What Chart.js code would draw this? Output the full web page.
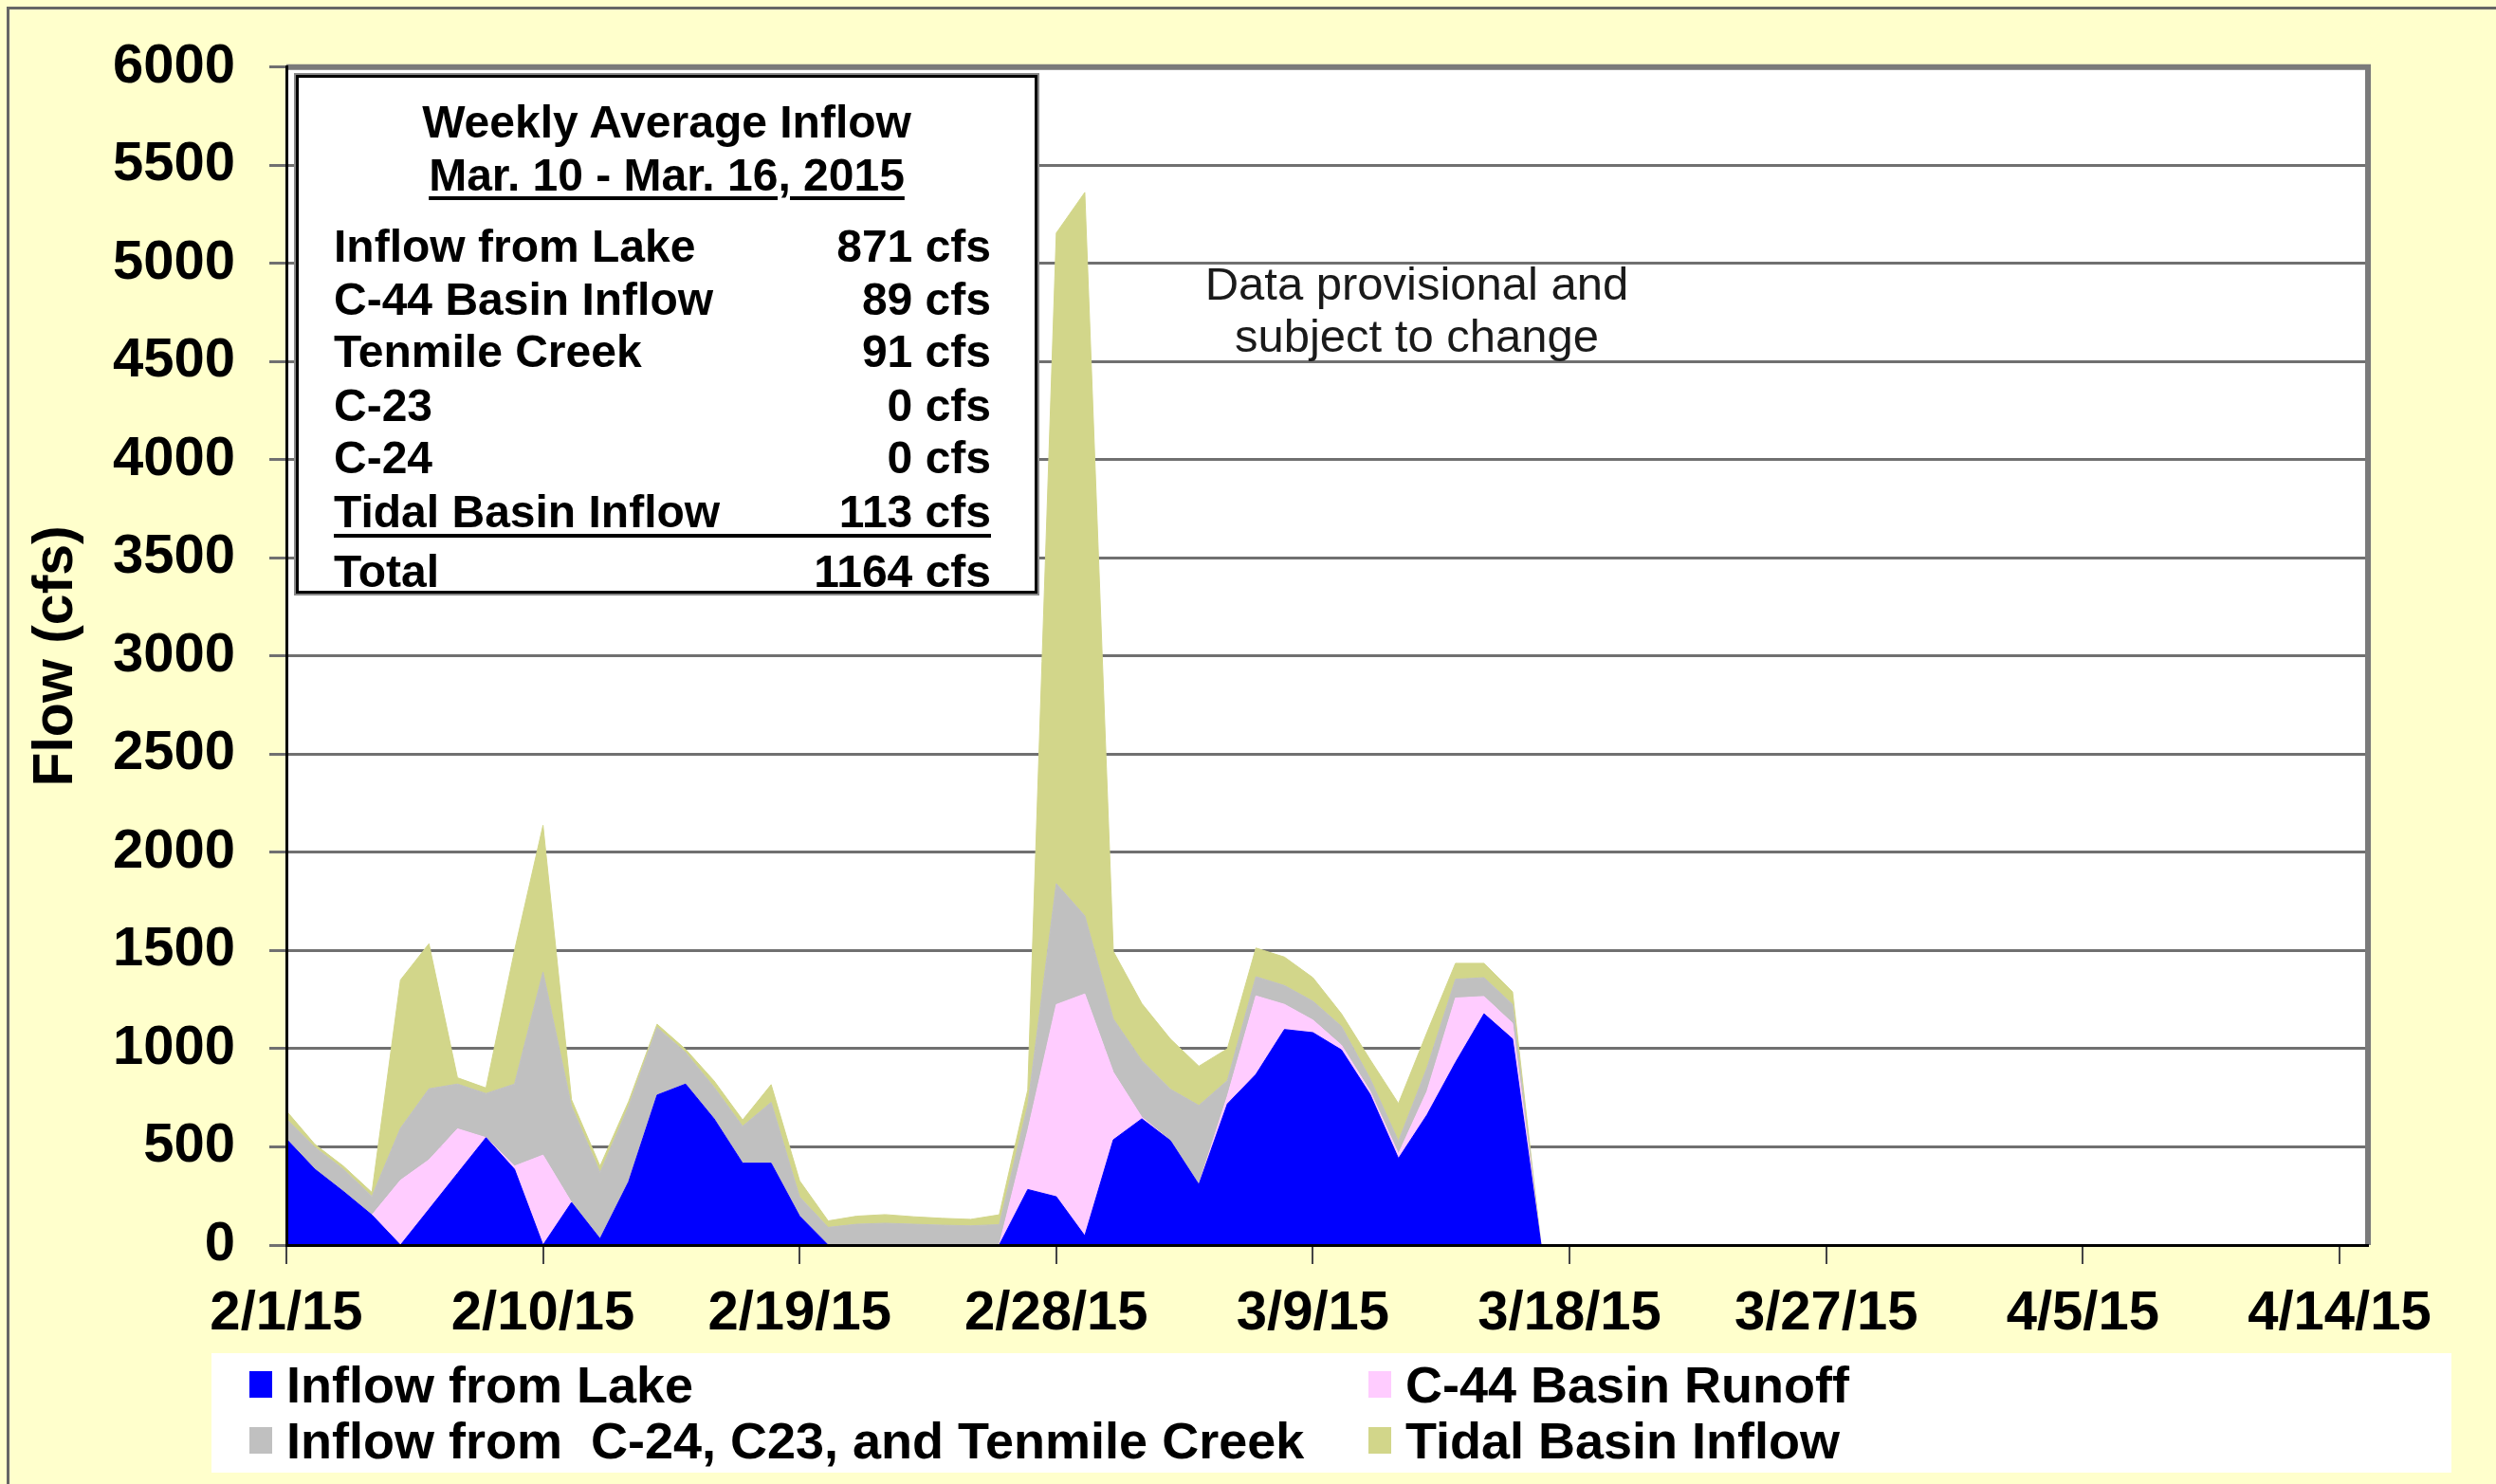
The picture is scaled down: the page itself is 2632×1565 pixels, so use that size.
<!DOCTYPE html>
<html><head><meta charset="utf-8">
<script src="https://cdn.jsdelivr.net/npm/chart.js@4.4.1/dist/chart.umd.min.js"></script>
<style>
html,body{margin:0;padding:0;background:#FFFFCC;}
#wrap{position:relative;width:2632px;height:1565px;overflow:hidden;background:#FFFFCC;font-family:"Liberation Sans",Arial,sans-serif;}
#frame{position:absolute;left:7px;top:7px;width:2700px;height:1700px;border-left:3px solid #666;border-top:3px solid #666;}
#c{position:absolute;left:0;top:0;}
#info{position:absolute;left:312px;top:79px;width:776px;height:541px;background:#fff;border:3px solid #000;box-shadow:0 0 0 2px #888;font-weight:bold;font-size:48px;color:#000;}
#info .t{position:absolute;left:0;width:100%;text-align:center;line-height:56px;}
#info .l{position:absolute;left:37px;line-height:56px;}
#info .r{position:absolute;right:46px;line-height:56px;text-align:right;}
#note{position:absolute;left:1194px;width:600px;text-align:center;font-size:49px;line-height:55px;color:#1a1a1a;top:272px;}
#legend{position:absolute;left:223px;top:1427px;width:2362px;height:126px;background:#fff;font-weight:bold;font-size:54px;color:#000;}
#legend .item{position:absolute;white-space:pre;line-height:60px;}
#legend .sw{position:absolute;width:24px;height:28px;}
</style></head>
<body>
<div id="wrap">
<div id="frame"></div>
<canvas id="c" width="2632" height="1565"></canvas>
<div id="info">
  <div class="t" style="top:19px;">Weekly Average Inflow</div>
  <div class="t" style="top:75px;"><span style="text-decoration:underline;text-decoration-thickness:4px;text-underline-offset:6px;">Mar. 10 - Mar. 16, 2015</span></div>
  <div id="rows"></div>
  <div style="position:absolute;left:37px;right:46px;top:481px;height:4px;background:#000;"></div>
</div>
<div id="note">Data provisional and<br>subject to change</div>
<div id="legend"></div>
</div>
<script>
// ---- data (daily values starting 2/1/15) ----
const startDate = [2015, 1, 1];           // Feb 1, 2015
const numDays = 74;                       // 2/1/15 .. 4/15/15
const tickStep = 9;
const lakeInflow  = [540,386,273,153,0,182,365,547,386,0,217,32,322,764,820,643,417,417,147,0,0,0,0,0,0,0,283,246,47,536,643,532,308,719,869,1098,1082,994,769,441,663,930,1178,1050,0];
const c44Runoff   = [0,0,0,0,330,252,227,0,16,458,0,0,0,0,0,0,0,0,0,0,0,0,0,0,0,0,300,979,1232,344,8,0,0,40,400,128,64,24,16,24,120,328,88,80,0];
const c24c23Ten   = [103,112,113,95,265,362,228,225,418,933,490,338,385,345,161,161,188,310,98,90,106,111,106,101,98,104,130,616,398,272,289,262,403,79,98,96,96,96,65,64,120,96,96,96,0];
const tidalInflow = [40,15,16,20,755,739,32,28,680,747,33,32,24,16,16,32,32,90,82,33,41,44,38,35,33,50,77,3314,3685,344,290,256,200,162,146,145,120,64,96,192,180,81,73,64,0];
const seriesNames = ['Inflow from Lake','C-44 Basin Runoff','Inflow from  C-24, C23, and Tenmile Creek','Tidal Basin Inflow'];
const seriesColors = ['#0000FF','#FFCCFF','#C0C0C0','#D2D68A'];
const yTicks = {min:0, max:6000, step:500};
const infoRows = [
  ['Inflow from Lake','871 cfs'],
  ['C-44 Basin Inflow','89 cfs'],
  ['Tenmile Creek','91 cfs'],
  ['C-23','0 cfs'],
  ['C-24','0 cfs'],
  ['Tidal Basin Inflow','113 cfs'],
  ['Total','1164 cfs']
];

// categories: dates
const categories = [];
for (let i = 0; i < numDays; i++) {
  const d = new Date(Date.UTC(startDate[0], startDate[1], startDate[2] + i));
  categories.push((d.getUTCMonth()+1) + '/' + d.getUTCDate() + '/' + String(d.getUTCFullYear()).slice(2));
}

// info table rows
const rowsEl = document.getElementById('rows');
const rowTops = [150,206,261,318,373,430,493];
infoRows.forEach((r, i) => {
  const a = document.createElement('div'); a.className = 'l'; a.style.top = rowTops[i] + 'px'; a.textContent = r[0];
  const b = document.createElement('div'); b.className = 'r'; b.style.top = rowTops[i] + 'px'; b.textContent = r[1];
  rowsEl.appendChild(a); rowsEl.appendChild(b);
});

const FONT = '"Liberation Sans", Arial, sans-serif';
const values = [lakeInflow, c44Runoff, c24c23Ten, tidalInflow];
const datasets = values.map((v, i) => ({
  label: seriesNames[i],
  data: v,
  backgroundColor: seriesColors[i],
  borderColor: seriesColors[i],
  borderWidth: 1,
  pointRadius: 0,
  tension: 0,
  fill: i === 0 ? 'origin' : '-1'
}));

const framePlugin = {
  id: 'frame',
  beforeDraw(chart) {
    const {ctx, chartArea: a} = chart;
    ctx.save();
    ctx.fillStyle = '#ffffff';
    ctx.fillRect(a.left, a.top, a.right - a.left, a.bottom - a.top);
    ctx.restore();
  },
  afterDatasetsDraw(chart) {
    const {ctx, chartArea: a} = chart;
    ctx.save();
    ctx.strokeStyle = '#7a7a7a';
    ctx.lineWidth = 6;
    ctx.beginPath();
    ctx.moveTo(a.left, a.top);
    ctx.lineTo(a.right, a.top);
    ctx.lineTo(a.right, a.bottom);
    ctx.stroke();
    ctx.restore();
  }
};

const chart = new Chart(document.getElementById('c'), {
  type: 'line',
  data: { labels: categories, datasets },
  options: {
    responsive: false,
    animation: false,
    layout: { padding: { left: 0, top: 70, right: 135, bottom: 0 } },
    plugins: { legend: { display: false }, tooltip: { enabled: false } },
    scales: {
      x: {
        type: 'category',
        offset: false,
        grid: { drawOnChartArea: false, drawTicks: true, tickLength: 20, color: '#444', lineWidth: 2 },
        border: { display: true, color: '#000', width: 3, z: 1 },
        ticks: {
          autoSkip: false, maxRotation: 0, minRotation: 0, padding: 18, color: '#000',
          font: { family: FONT, size: 58, weight: 'bold' },
          callback: (v, i) => (i % tickStep === 0 ? categories[i] : null)
        },
        afterFit: s => { s.height = 252; }
      },
      y: {
        stacked: true,
        min: yTicks.min, max: yTicks.max,
        grid: { color: '#707070', lineWidth: 3, tickLength: 18, drawTicks: true },
        border: { display: true, color: '#000', width: 3, z: 1 },
        ticks: { stepSize: yTicks.step, padding: 36, color: '#000', font: { family: FONT, size: 58, weight: 'bold' },
                 callback: v => String(v) },
        title: { display: true, text: 'Flow (cfs)', color: '#000', font: { family: FONT, size: 59, weight: 'bold' }, padding: { top: 24, bottom: 0 } },
        afterFit: s => { s.width = 302; }
      }
    }
  },
  plugins: [framePlugin]
});

// legend built from chart datasets (2 columns)
const leg = document.getElementById('legend');
const colSwatch = [40, 1220];
const colText = [79, 1259];
const rowY = [3, 62];
chart.data.datasets.forEach((ds, i) => {
  const row = Math.floor(i / 2), col = i % 2;
  const sw = document.createElement('div'); sw.className = 'sw';
  sw.style.background = ds.backgroundColor;
  sw.style.left = colSwatch[col] + 'px'; sw.style.top = (rowY[row] + 16) + 'px';
  const tx = document.createElement('div'); tx.className = 'item';
  tx.style.left = colText[col] + 'px'; tx.style.top = rowY[row] + 'px';
  tx.textContent = ds.label;
  leg.appendChild(sw); leg.appendChild(tx);
});
</script>
</body></html>
